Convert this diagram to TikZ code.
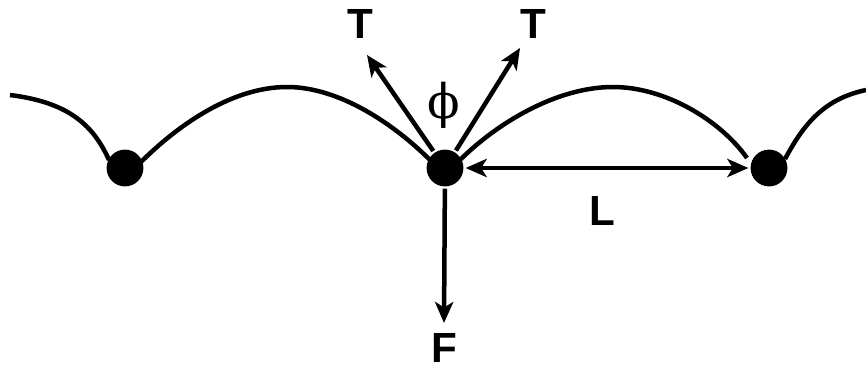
\documentclass[tikz,border=0pt]{standalone}
\usepackage{amsmath,amssymb}
\usepackage{fontspec}
\setsansfont{Liberation Sans}
\newfontfamily\phifont{DejaVu Serif}
\usetikzlibrary{arrows.meta}

\tikzset{
  bead/.style={circle,fill=black,inner sep=0pt,minimum size=0.46cm},
  lab/.style={font=\sffamily\bfseries\fontsize{15pt}{17pt}\selectfont,inner sep=0pt}
}

\begin{document}
\begin{tikzpicture}[x=0.0125cm,y=-0.0125cm,>={Stealth[length=7.5pt,width=6.5pt,inset=2pt]},line width=1.6pt]
\useasboundingbox (0,0) rectangle (866,371);
  % beads on the string
  \node[bead] (lb) at (125,168) {};
  \node[bead] (ctr) at (445,168) {};
  \node[bead] (rb) at (769,168) {};
  % string between the beads
  \draw (10,95) .. controls (65,102) and (92,122) .. (109,160);
  \draw (141,162) .. controls (175,128) and (230,87) .. (287,87)
    .. controls (340,87) and (395,125) .. (430,160);
  \draw (460,160) .. controls (495,125) and (555,87) .. (613,87)
    .. controls (665,87) and (720,120) .. (747,158);
  \draw (785,159) to[out=62,in=192] (866,90);
  % forces
  \coordinate (tlend) at (367,55);
  \coordinate (trend) at (520,48);
  \coordinate (fend) at (444,323);
  \draw[->] (ctr) -- (tlend);
  \draw[->] (ctr) -- (trend);
  \draw[->] (ctr) -- (fend);
  \draw[<->] (ctr) -- (rb);
  % labels
  \node[lab] (tl) at (360,24) {T};
  \node[lab] (tr) at (533,24) {T};
  \node[font=\phifont\fontsize{17pt}{19pt}\selectfont,inner sep=0pt] (phi) at (444,105) {ϕ};
  \node[lab] (fl) at (444,348) {F};
  \node[lab] (ll) at (602,211) {L};
\end{tikzpicture}
\end{document}
